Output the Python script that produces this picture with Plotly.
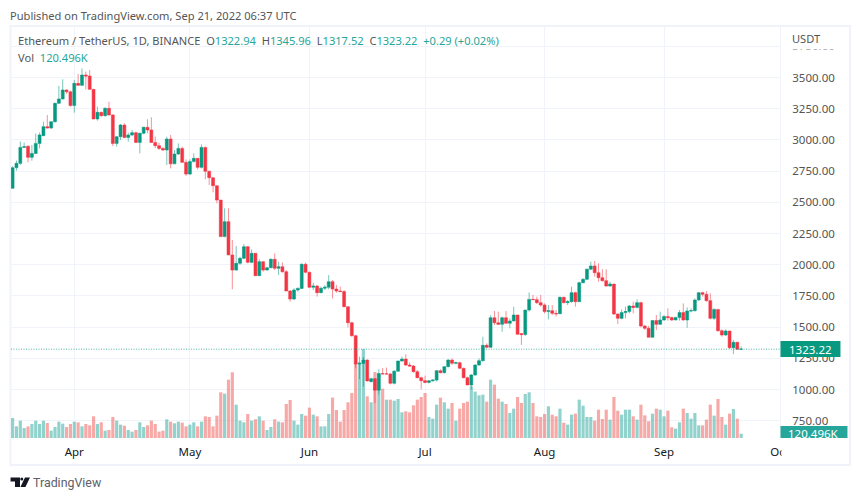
import pandas as pd
import plotly.graph_objects as go

# daily candles, Mar 16 - Sep 21 2022
dates = pd.date_range("2022-03-16", periods=190, freq="D")

opens = [2612,2777,2812,2940,2950,2860,2892,2972,3034,3106,
         3095,3146,3293,3328,3400,3385,3275,3453,3437,3520,
         3512,3405,3168,3221,3194,3253,3200,2972,3026,3119,
         3020,3039,3058,2980,3053,3101,3080,2980,2954,2932,
         2919,3007,2808,2887,2932,2820,2726,2826,2852,2780,
         2940,2749,2697,2633,2518,2225,2345,2078,1957,2011,
         2051,2144,2019,2091,1912,2024,1957,1976,2043,1971,
         1984,1944,1789,1725,1797,1810,2003,1939,1819,1829,
         1776,1811,1819,1864,1805,1789,1785,1664,1535,1431,
         1204,1209,1236,1063,1087,995,1127,1125,1125,1050,
         1147,1228,1244,1196,1188,1143,1095,1071,1057,1070,
         1076,1151,1135,1183,1236,1210,1215,1170,1095,1036,
         1116,1196,1231,1354,1338,1575,1535,1522,1575,1530,
         1549,1597,1448,1440,1637,1722,1720,1696,1677,1624,
         1632,1610,1607,1739,1696,1704,1776,1704,1856,1883,
         1963,1990,1936,1896,1872,1829,1845,1605,1570,1616,
         1624,1669,1658,1696,1509,1490,1418,1552,1522,1557,
         1584,1576,1557,1576,1616,1557,1629,1632,1717,1776,
         1763,1712,1570,1642,1471,1437,1469,1335,1378,1322.94]
closes = [2777,2812,2940,2945,2860,2892,2972,3040,3106,3095,
          3146,3293,3328,3400,3385,3275,3453,3437,3520,3512,
          3405,3168,3221,3194,3253,3200,2972,3026,3119,3020,
          3039,3058,2980,3053,3101,3080,2980,2954,2932,2919,
          3007,2808,2887,2932,2820,2726,2826,2852,2780,2940,
          2749,2697,2633,2518,2225,2345,2078,1957,2011,2051,
          2144,2019,2091,1912,2024,1957,1976,2043,1971,1984,
          1944,1789,1725,1797,1810,2003,1939,1819,1829,1776,
          1811,1819,1864,1805,1789,1785,1664,1535,1431,1204,
          1209,1236,1069,1087,995,1127,1125,1125,1050,1147,
          1228,1244,1196,1188,1143,1095,1071,1057,1070,1076,
          1151,1135,1183,1236,1210,1215,1170,1095,1036,1116,
          1196,1231,1354,1338,1575,1535,1522,1575,1530,1549,
          1597,1442,1440,1637,1722,1720,1696,1677,1624,1632,
          1610,1607,1739,1696,1704,1776,1704,1856,1883,1963,
          1990,1936,1896,1872,1829,1845,1605,1570,1616,1624,
          1669,1658,1696,1509,1490,1418,1552,1522,1557,1584,
          1576,1557,1576,1616,1557,1629,1632,1717,1776,1763,
          1712,1570,1642,1471,1437,1469,1335,1378,1323,1323.22]
highs = [2790,2834,2986,2978,2955,2960,3052,3060,3146,3200,
         3146,3298,3432,3485,3405,3395,3480,3528,3573,3547,
         3560,3405,3266,3226,3261,3306,3204,3030,3127,3133,
         3058,3079,3066,3058,3106,3165,3181,3026,2978,2940,
         3026,3039,2919,2972,2946,2844,2844,2892,2852,2964,
         2946,2752,2700,2633,2518,2452,2452,2198,2150,2064,
         2166,2150,2123,2091,2043,2030,1984,2051,2091,2024,
         2019,1957,1797,1811,1819,2011,2016,1944,1856,1837,
         1824,1837,1917,1877,1837,1824,1797,1664,1543,1437,
         1263,1260,1242,1095,1092,1162,1172,1176,1130,1156,
         1231,1263,1282,1218,1196,1156,1103,1111,1076,1081,
         1156,1162,1188,1244,1250,1223,1223,1175,1103,1124,
         1202,1250,1423,1370,1595,1629,1624,1584,1629,1570,
         1664,1597,1450,1637,1778,1757,1744,1757,1690,1677,
         1677,1637,1744,1744,1717,1824,1784,1864,1891,1971,
         2024,2030,2011,1963,1963,1864,1845,1610,1642,1664,
         1677,1704,1722,1704,1517,1509,1557,1597,1624,1597,
         1650,1584,1584,1637,1690,1658,1650,1730,1778,1784,
         1789,1770,1650,1642,1482,1482,1469,1397,1383,1345.96]
lows = [2612,2753,2800,2940,2820,2833,2887,2932,3030,3093,
        3088,3138,3288,3325,3368,3266,3218,3432,3432,3405,
        3400,3165,3154,3186,3186,3196,2951,2946,3000,3013,
        2986,3030,2975,2892,3045,3053,2975,2933,2919,2912,
        2799,2772,2807,2879,2815,2711,2719,2820,2764,2772,
        2684,2638,2580,2492,2225,2220,2078,1803,1952,1998,
        2046,2011,2011,1909,1909,1944,1952,1971,1957,1917,
        1936,1789,1704,1717,1784,1805,1931,1811,1797,1744,
        1771,1797,1803,1730,1776,1779,1658,1498,1423,1170,
        1083,1022,1063,1058,890,960,1123,1120,1040,1041,
        1143,1223,1188,1183,1135,1089,1001,1049,1049,1063,
        1063,1129,1129,1178,1196,1202,1164,1089,1036,1001,
        1111,1191,1223,1330,1334,1517,1517,1463,1530,1490,
        1549,1442,1357,1429,1624,1717,1685,1664,1610,1562,
        1597,1584,1610,1690,1677,1696,1664,1704,1851,1877,
        1957,1904,1864,1864,1824,1824,1597,1525,1562,1570,
        1610,1610,1650,1498,1477,1418,1418,1477,1517,1552,
        1552,1549,1557,1552,1552,1495,1618,1624,1712,1744,
        1704,1562,1557,1463,1423,1429,1325,1284,1316,1317.52]
# volume in thousands of ETH
volumes = [556,324,482,278,324,389,482,389,482,417,
           204,306,454,399,306,389,454,436,324,389,
           352,603,389,436,204,222,584,482,371,343,
           222,176,222,436,306,352,482,389,176,204,
           519,454,408,454,426,324,371,436,324,454,
           603,584,324,621,1270,1233,1622,1826,927,482,
           436,667,482,519,603,482,222,306,519,454,
           436,946,1057,482,371,667,621,844,649,603,
           324,324,667,1122,779,454,779,992,1251,2086,
           2104,2475,1159,992,1835,1808,1372,1066,1066,1038,
           1085,714,742,714,908,1066,1140,1251,584,538,
           927,1122,992,816,973,482,816,973,1010,1437,
           1289,1187,1205,1010,1622,1483,1094,1010,946,695,
           816,1140,973,1224,1270,973,603,584,667,881,
           649,603,816,426,371,649,677,1066,899,584,
           584,482,788,528,788,510,1140,760,649,788,
           788,603,510,927,630,464,677,816,788,603,
           760,297,260,436,816,695,538,695,352,352,
           510,927,621,1085,584,371,677,806,538,120.496]

price_ticks = [750,1000,1250,1500,1750,2000,2250,2500,2750,3000,3250,3500,3750]
month_ticks = ["2022-04-01","2022-05-01","2022-06-01","2022-07-01","2022-08-01","2022-09-01","2022-10-01"]
month_labels = ["Apr","May","Jun","Jul","Aug","Sep","Oct"]
last_price = 1323.22

UP = "#089981"
DOWN = "#f23645"
FONT = "Noto Sans"
W, H = 860, 499
L, R, T, B = 10.5, 780, 27, 438


# pixel position -> paper fraction
def px(x):
    return (x - L) / (R - L)


def py(y):
    return 1 - (y - T) / (B - T)


vol_colors = ["rgba(38,166,154,0.5)" if c >= o else "rgba(239,83,80,0.5)" for o, c in zip(opens, closes)]

fig = go.Figure()
fig.add_trace(go.Bar(x=dates, y=volumes, marker=dict(color=vol_colors, line_width=0), yaxis="y"))
fig.add_trace(go.Candlestick(x=dates, open=opens, high=highs, low=lows, close=closes, yaxis="y2",
                             increasing=dict(fillcolor=UP, line=dict(color="rgba(8,153,129,0.55)", width=1)),
                             decreasing=dict(fillcolor=DOWN, line=dict(color="rgba(242,54,69,0.55)", width=1))))

fig.update_layout(
    width=W, height=H, autosize=False, showlegend=False, paper_bgcolor="white", plot_bgcolor="white",
    margin=dict(l=L, r=W - R, t=T, b=H - B, pad=0), bargap=0.18, hovermode=False,
    boxgap=0.13, boxgroupgap=0.13,
    xaxis=dict(range=["2022-03-15 14:00", "2022-10-01 02:00"], type="date", rangeslider_visible=False,
               tickvals=month_ticks, ticktext=month_labels, tickangle=0, showgrid=True, gridcolor="#f0f3fa",
               gridwidth=1, zeroline=False, showline=False, ticks="", ticklabelstandoff=5,
               tickfont=dict(family=FONT, size=11.5, color="#131722")),
    yaxis=dict(range=[0, 11426], visible=False, showgrid=False, zeroline=False),
    yaxis2=dict(range=[611.4, 3904.6], overlaying="y", side="right", tickvals=price_ticks,
                tickformat=".2f", showgrid=True, gridcolor="#f0f3fa", gridwidth=1, zeroline=False,
                showline=True, linecolor="#f0f3fa", linewidth=1, ticks="", ticklabelstandoff=9,
                tickfont=dict(family=FONT, size=11.5, color="#555555")),
)

# last price line
fig.add_shape(type="line", xref="paper", x0=0, x1=1, yref="y2", y0=last_price, y1=last_price,
              line=dict(color="rgba(8,153,129,0.7)", width=1, dash="1px,1.5px"))


def box(x0, y0, x1, y1, color, line=None):
    fig.add_shape(type="rect", xref="paper", yref="paper", x0=px(x0), x1=px(x1), y0=py(y0), y1=py(y1),
                  fillcolor=color, line=dict(color=line or color, width=2 if line else 0), layer="above")


def label(x, y, text, size=11.1, color="#555555", anchor="left", family=FONT):
    fig.add_annotation(xref="paper", yref="paper", x=px(x), y=py(y), text=text, showarrow=False,
                       xanchor=anchor, yanchor="middle", align="left", borderpad=0,
                       font=dict(family=family, size=size, color=color))


# covers for the clipped axis labels
box(781, 27, 849, 49.5, "white")
box(781.5, 440, 849, 464, "white")
# outer frame
fig.add_shape(type="rect", xref="paper", yref="paper", x0=px(10), x1=px(850), y0=py(26), y1=py(465),
              line=dict(color="#f0f3fa", width=2), layer="below")
# last value tags
box(780.5, 341, 840.5, 357, UP)
box(780.5, 426, 847.5, 438, "#26a69a")
label(810.5, 349, "1323.22", size=11.5, color="white", anchor="center")
label(814, 433, "120.496K", size=11.5, color="white", anchor="center")
label(791.5, 39, "USDT")

num = '<span style="color:#26a69a">%s</span>'
label(8.5, 15, "Published on TradingView.com, Sep 21, 2022 06:37 UTC")
label(16.5, 41, "Ethereum / TetherUS, 1D, BINANCE  O" + num % "1322.94" + "  H" + num % "1345.96"
      + "  L" + num % "1317.52" + "  C" + num % "1323.22" + "  " + num % "+0.29 (+0.02%)")
label(16.5, 57.5, "Vol  " + num % "120.496K")

# logo
logo_parts = [
    [(10, 477.5), (19.5, 477.5), (19.5, 487), (14.5, 487), (14.5, 481.5), (10, 481.5)],
    [(24.5, 477.5), (29.5, 477.5), (25, 487), (20, 487)],
]
for part in logo_parts:
    path = "M " + " L ".join("%.4f,%.4f" % (px(a), py(b)) for a, b in part) + " Z"
    fig.add_shape(type="path", xref="paper", yref="paper", path=path, fillcolor="#131722", line_width=0)
fig.add_shape(type="circle", xref="paper", yref="paper", x0=px(19.8), x1=px(22.8), y0=py(477.5), y1=py(480.5),
              fillcolor="#131722", line_width=0)
label(32, 482, "TradingView", size=12.4, color="#5d606b", family="Roboto")

# page margin off so the figure sits at the window corner
fig.write_html("out.html", config=dict(displayModeBar=False), post_script="document.body.style.margin='0';")
